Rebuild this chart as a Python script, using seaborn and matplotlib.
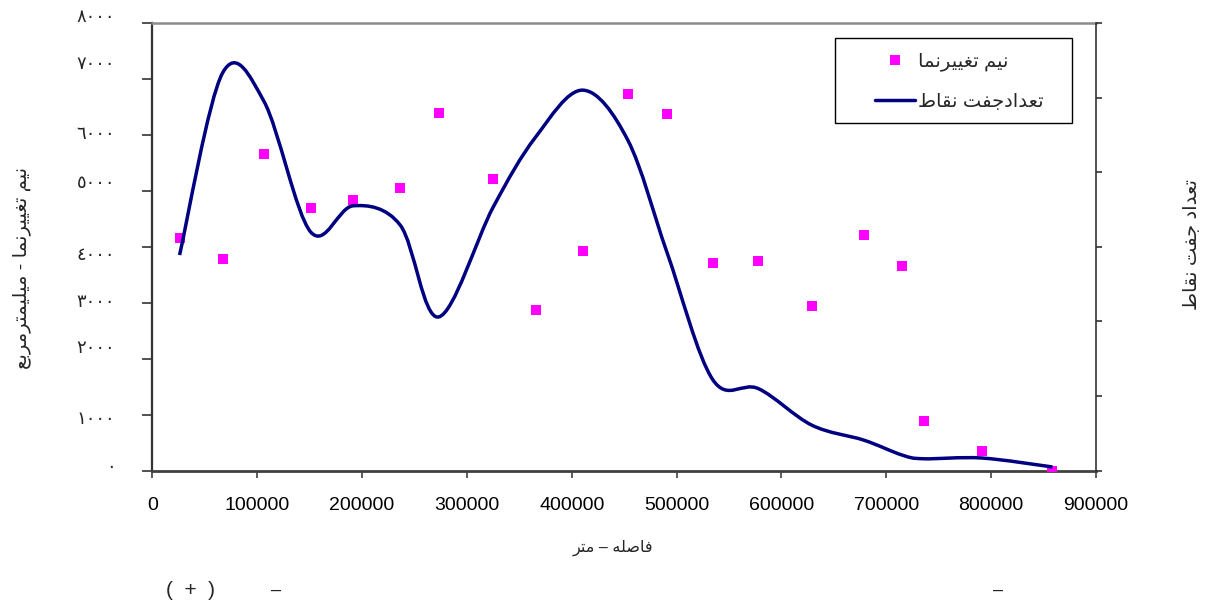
import numpy as np
import matplotlib
matplotlib.use("Agg")
import matplotlib.pyplot as plt
from matplotlib.path import Path
from matplotlib.patches import PathPatch, Rectangle
from matplotlib.lines import Line2D
from matplotlib.transforms import ScaledTranslation
import seaborn as sns
import pandas as pd

# ---- data -------------------------------------------------------------
distance = [26000, 67000, 106500, 151000, 191500, 236500, 273000, 325000,
            365500, 410500, 453500, 491000, 534500, 578000, 629000, 678500,
            715000, 735500, 791000, 858500]
semivariance = [4160, 3780, 5660, 4700, 4840, 5050, 6400, 5210, 2870, 3930,
                6740, 6370, 3710, 3740, 2940, 4220, 3660, 890, 350, 0]
pair_count = [28.9, 53.3, 49.5, 32.0, 35.5, 32.9, 20.6, 35.3, 44.7, 51.0,
              44.3, 29.2, 12.2, 11.0, 6.1, 4.1, 2.1, 1.6, 1.7, 0.5]

x_ticks = [0, 100000, 200000, 300000, 400000, 500000, 600000, 700000, 800000, 900000]
y_ticks = [0, 1000, 2000, 3000, 4000, 5000, 6000, 7000, 8000]
y2_ticks = [0, 10, 20, 30, 40, 50, 60]

label_semivar = "نیم تغییرنما"
label_pairs = "تعدادجفت نقاط"
ylabel_left = "نیم تغییرنما - میلیمترمربع"
ylabel_right = "تعداد جفت نقاط"
xlabel = "فاصله – متر"

# ---- Arabic-script shaping (presentation forms, visual order) ----------
FORMS = {  # isolated, final, initial, medial
    'ا': ('\uFE8D', '\uFE8E', None, None),
    'ب': ('\uFE8F', '\uFE90', '\uFE91', '\uFE92'),
    'ت': ('\uFE95', '\uFE96', '\uFE97', '\uFE98'),
    'ج': ('\uFE9D', '\uFE9E', '\uFE9F', '\uFEA0'),
    'د': ('\uFEA9', '\uFEAA', None, None),
    'ر': ('\uFEAD', '\uFEAE', None, None),
    'ص': ('\uFEB9', '\uFEBA', '\uFEBB', '\uFEBC'),
    'ط': ('\uFEC1', '\uFEC2', '\uFEC3', '\uFEC4'),
    'ع': ('\uFEC9', '\uFECA', '\uFECB', '\uFECC'),
    'غ': ('\uFECD', '\uFECE', '\uFECF', '\uFED0'),
    'ف': ('\uFED1', '\uFED2', '\uFED3', '\uFED4'),
    'ق': ('\uFED5', '\uFED6', '\uFED7', '\uFED8'),
    'ل': ('\uFEDD', '\uFEDE', '\uFEDF', '\uFEE0'),
    'م': ('\uFEE1', '\uFEE2', '\uFEE3', '\uFEE4'),
    'ن': ('\uFEE5', '\uFEE6', '\uFEE7', '\uFEE8'),
    'ه': ('\uFEE9', '\uFEEA', '\uFEEB', '\uFEEC'),
    'ی': ('\uFBFC', '\uFBFD', '\uFBFE', '\uFBFF'),
}


def rtl(text):
    out = []
    for i, ch in enumerate(text):
        f = FORMS.get(ch)
        if f is None:
            out.append(ch)
            continue
        prev = text[i - 1] if i > 0 else ''
        nxt = text[i + 1] if i + 1 < len(text) else ''
        joins_prev = prev in FORMS and FORMS[prev][2] is not None
        joins_next = f[2] is not None and nxt in FORMS
        if joins_prev and joins_next:
            g = f[3]
        elif joins_prev:
            g = f[1]
        elif joins_next:
            g = f[2]
        else:
            g = f[0]
        out.append(g)
    return ''.join(reversed(out))


def arabic_digits(v):
    return ''.join(chr(0x660 + int(c)) if c.isdigit() else c for c in str(v))


def smooth_path(xs, ys):
    """Cubic Bezier path through the points (Catmull-Rom style tangents)."""
    pts = np.column_stack([xs, ys]).astype(float)
    n = len(pts)
    verts, codes = [pts[0]], [Path.MOVETO]
    for i in range(n - 1):
        p0 = pts[i - 1] if i > 0 else pts[i]
        p1, p2 = pts[i], pts[i + 1]
        p3 = pts[i + 2] if i + 2 < n else pts[i + 1]
        verts += [p1 + (p2 - p0) / 6.0, p2 - (p3 - p1) / 6.0, p2]
        codes += [Path.CURVE4] * 3
    return Path(verts, codes)


# ---- style ----------------------------------------------------------------
sns.set_style("ticks")
plt.rcParams['font.family'] = ['Liberation Sans', 'DejaVu Sans']

MAGENTA = '#FF00FF'
NAVY = '#000080'
W, H = 1209, 606

fig = plt.figure(figsize=(W / 100, H / 100), dpi=100)
ax = fig.add_axes([152.3 / W, 1 - 470.7 / H, (1096 - 152.3) / W, (470.7 - 23) / H])
ax2 = ax.twinx()

df = pd.DataFrame({'distance': distance, 'semivariance': semivariance})
sns.scatterplot(data=df, x='distance', y='semivariance', ax=ax, marker='s',
                s=56, color=MAGENTA, linewidth=0, zorder=3)

ax2.add_patch(PathPatch(smooth_path(distance, pair_count), fill=False,
                        edgecolor=NAVY, linewidth=2.5, capstyle='butt',
                        joinstyle='round', zorder=3))

ax.set_xlim(0, 900000)
ax.set_ylim(0, 8000)
ax2.set_ylim(0, 60)
ax.set_xticks(x_ticks)
ax.set_xticklabels([str(v) for v in x_ticks], fontsize=14)
ax.set_yticks(y_ticks)
ax.set_yticklabels([])
ax2.set_yticks(y2_ticks)
ax2.set_yticklabels([])

# left value labels in Arabic-Indic digits, each with its own small
# vertical nudge (pixels, + = down)
nudge = [-2.7, 4.3, -9.8, 0, 9.1, -7, 0, -14, -6]
ytrans = ax.get_yaxis_transform()
for v, d in zip(y_ticks, nudge):
    ax.text(0, v, arabic_digits(v), fontsize=13, ha='right', va='center',
            transform=ytrans + ScaledTranslation(-0.37, -d / 100, fig.dpi_scale_trans),
            clip_on=False)

ax.tick_params(axis='y', direction='out', length=7, width=1.2, color='#333333')
ax.tick_params(axis='x', direction='out', length=5, width=1.2,
               color='#404040', pad=14, labelcolor='black')
ax2.tick_params(axis='y', direction='out', length=4, width=1.2,
                color='#333333')

for name, sp in ax.spines.items():
    sp.set_visible(name in ('left', 'bottom', 'top'))
ax.spines['left'].set_color('#333333')
ax.spines['left'].set_linewidth(1.6)
ax.spines['bottom'].set_color('#404040')
ax.spines['bottom'].set_linewidth(2)
ax.spines['top'].set_color('#8c8c8c')
ax.spines['top'].set_linewidth(1.8)
for name, sp in ax2.spines.items():
    sp.set_visible(name == 'right')
ax2.spines['right'].set_color('#333333')
ax2.spines['right'].set_linewidth(1.2)

ax.set_xlabel(rtl(xlabel), fontsize=11.5, ha='center', va='center')
ax.xaxis.set_label_coords((613 - 152.3) / 943.7, (470.7 - 548) / 447.7)
ax.set_ylabel(rtl(ylabel_left), fontsize=14, rotation=90, ha='center', va='center')
ax.yaxis.set_label_coords((22 - 152.3) / 943.7, (470.7 - 268) / 447.7)
ax2.set_ylabel(rtl(ylabel_right), fontsize=14, rotation=90, ha='center', va='center')
ax2.yaxis.set_label_coords((1192 - 152.3) / 943.7, (470.7 - 245) / 447.7)

# legend with a plain rectangular frame
ax2.add_artist(Rectangle((835 / W, 1 - 123 / H), (1072 - 835) / W, (123 - 38) / H,
                         transform=fig.transFigure, facecolor='white',
                         edgecolor='black', linewidth=1, zorder=4))
handles = [Line2D([], [], linestyle='none', marker='s', markersize=7.2,
                  markerfacecolor=MAGENTA, markeredgewidth=0),
           Line2D([], [], color=NAVY, linewidth=2.5)]
ax2.legend(handles, [rtl(label_semivar), rtl(label_pairs)], frameon=False,
           loc='upper left', bbox_to_anchor=(875 / W, 1 - 52.5 / H),
           bbox_transform=fig.transFigure, fontsize=14, handlelength=2.05,
           handletextpad=0.15, labelspacing=1.13, borderpad=0, borderaxespad=0)

# note line under the chart
fig.text(190 / W, 1 - 590 / H, "(  +  )", fontsize=15, ha='center', va='center')
fig.text(276 / W, 1 - 590 / H, "–", fontsize=13, ha='center', va='center')
fig.text(998 / W, 1 - 590 / H, "–", fontsize=13, ha='center', va='center')

fig.savefig("out.png", dpi=100)
